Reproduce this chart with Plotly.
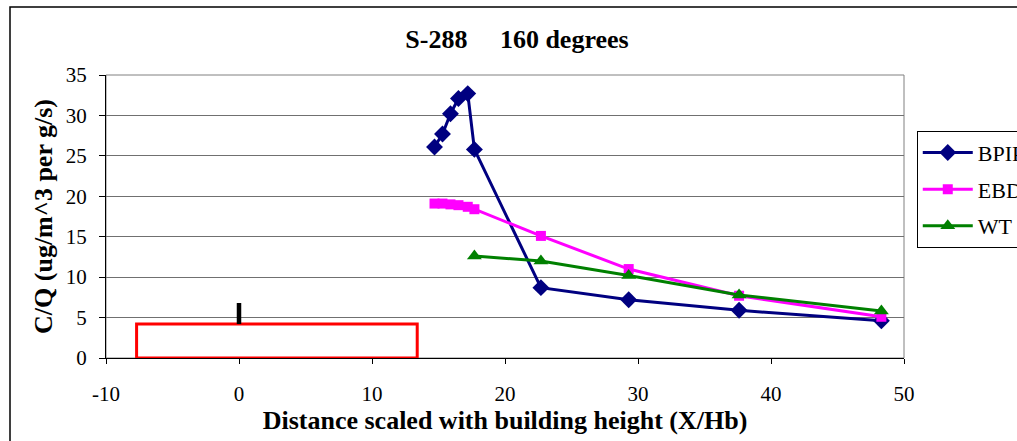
import plotly.graph_objects as go

# ---- data ----
bpip_x = [14.7, 15.3, 15.9, 16.5, 17.2, 17.7, 22.7, 29.3, 37.6, 48.3]
bpip_y = [26.1, 27.7, 30.2, 32.1, 32.7, 25.8, 8.7, 7.2, 5.9, 4.6]

ebd_x = [14.7, 15.3, 15.9, 16.5, 17.2, 17.7, 22.7, 29.3, 37.6, 48.3]
ebd_y = [19.1, 19.1, 19.0, 18.9, 18.7, 18.4, 15.1, 11.0, 7.7, 5.1]

wt_x = [17.7, 22.7, 29.3, 37.6, 48.3]
wt_y = [12.6, 12.0, 10.2, 7.8, 5.8]

building_x = [-7.7, 13.4, 13.4, -7.7, -7.7]
building_y = [0, 0, 4.2, 4.2, 0]

stack_x = [0, 0]
stack_y = [4.2, 6.8]

x_ticks = [-10, 0, 10, 20, 30, 40, 50]
y_ticks = [0, 5, 10, 15, 20, 25, 30, 35]

FONT = "Liberation Serif"
W, H = 1017, 441
L, T, PW, PH = 106, 75, 798, 283

fig = go.Figure()

fig.add_trace(go.Scatter(x=building_x, y=building_y, mode="lines",
                         line=dict(color="#FF0000", width=3),
                         showlegend=False, hoverinfo="skip"))
fig.add_trace(go.Scatter(x=stack_x, y=stack_y, mode="lines",
                         line=dict(color="black", width=4.5),
                         showlegend=False, hoverinfo="skip"))

fig.add_trace(go.Scatter(x=bpip_x, y=bpip_y, mode="lines+markers", name="BPIP",
                         legendgroup="a",
                         line=dict(color="#000080", width=3),
                         marker=dict(symbol="diamond", size=13, color="#000080")))
fig.add_trace(go.Scatter(x=ebd_x, y=ebd_y, mode="lines+markers", name="EBD",
                         legendgroup="b",
                         line=dict(color="#FF00FF", width=3),
                         marker=dict(symbol="square", size=10, color="#FF00FF")))
fig.add_trace(go.Scatter(x=wt_x, y=wt_y, mode="lines+markers", name="WT",
                         legendgroup="c",
                         line=dict(color="#008000", width=3),
                         marker=dict(symbol="triangle-up", size=13, color="#008000")))

# outer chart frame
fig.add_shape(type="rect", xref="paper", yref="paper",
              x0=(10 - L) / PW, x1=1.4, y0=-0.4, y1=(T + PH - 7) / PH,
              line=dict(color="black", width=1.5), layer="below")

fig.update_layout(
    width=W, height=H,
    margin=dict(l=L, r=W - L - PW, t=T, b=H - T - PH, autoexpand=False),
    paper_bgcolor="white", plot_bgcolor="white",
    font=dict(family=FONT, size=21, color="black"),
    title=dict(text="S-288\u00a0\u00a0\u00a0\u00a0\u00a0160 degrees",
               x=0.515, xref="paper", xanchor="center",
               y=1 - 39 / H, yref="container", yanchor="middle",
               font=dict(family=FONT, size=26, color="black", weight="bold")),
    legend=dict(x=1.016, y=0.803, xanchor="left", yanchor="top",
                bordercolor="black", borderwidth=1, bgcolor="white",
                font=dict(family=FONT, size=22),
                traceorder="grouped", tracegroupgap=5, itemwidth=50),
    showlegend=True,
)

fig.update_xaxes(range=[-10, 50], tickmode="array", tickvals=x_ticks,
                 ticktext=[str(v) for v in x_ticks],
                 showgrid=False, zeroline=False,
                 showline=True, linecolor="black", linewidth=1, mirror=False,
                 ticks="outside", ticklen=5, tickcolor="black",
                 ticklabelstandoff=12,
                 tickfont=dict(family=FONT, size=21),
                 title=dict(text="Distance scaled with building height (X/Hb)",
                            font=dict(family=FONT, size=26, weight="bold"),
                            standoff=4))
fig.update_yaxes(range=[0, 35], tickmode="array", tickvals=y_ticks,
                 ticktext=[str(v) for v in y_ticks],
                 showgrid=True, gridcolor="#707070", gridwidth=1,
                 zeroline=False,
                 showline=True, linecolor="black", linewidth=1, mirror=False,
                 ticks="outside", ticklen=6, tickcolor="black",
                 ticklabelstandoff=8,
                 tickfont=dict(family=FONT, size=21),
                 title=dict(text="C/Q (ug/m^3 per g/s)",
                            font=dict(family=FONT, size=26, weight="bold"),
                            standoff=5))

# plot area border (top and right)
fig.add_shape(type="rect", xref="paper", yref="paper", x0=0, x1=1, y0=0, y1=1,
              line=dict(color="#808080", width=1), layer="below")

fig.write_html("out.html",
               config={"displayModeBar": False},
               post_script="document.body.style.margin='0';document.body.style.overflow='hidden';")
